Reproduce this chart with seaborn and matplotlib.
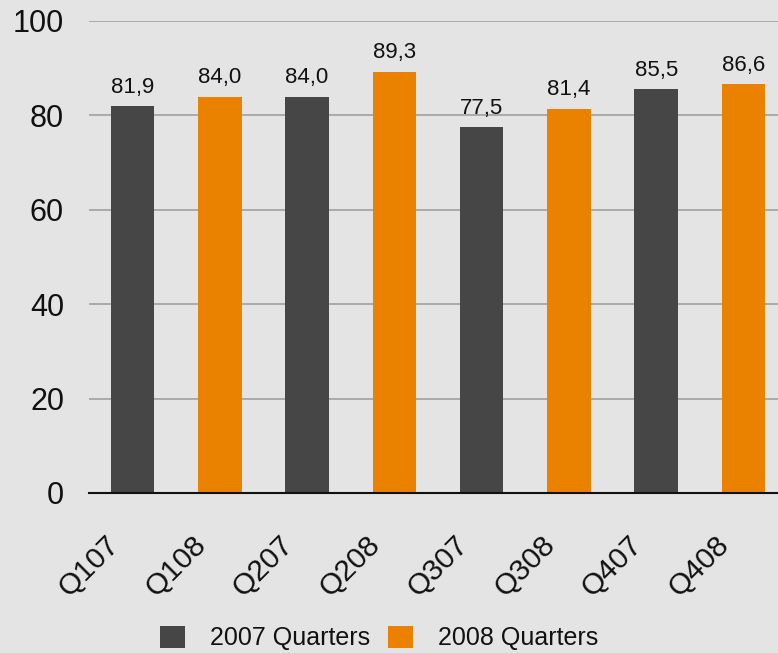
import pandas as pd
import matplotlib.pyplot as plt
import matplotlib.transforms as mtransforms
import seaborn as sns
from matplotlib.patches import Patch

# chart data
quarters = ['Q107', 'Q108', 'Q207', 'Q208', 'Q307', 'Q308', 'Q407', 'Q408']
values = [81.9, 84.0, 84.0, 89.3, 77.5, 81.4, 85.5, 86.6]
series = ['2007 Quarters', '2008 Quarters', '2007 Quarters', '2008 Quarters',
          '2007 Quarters', '2008 Quarters', '2007 Quarters', '2008 Quarters']
series_names = ['2007 Quarters', '2008 Quarters']
y_ticks = [0, 20, 40, 60, 80, 100]

colors = {'2007 Quarters': '#464646', '2008 Quarters': '#ea8200'}
bg = '#e4e4e4'

df = pd.DataFrame({'Quarter': quarters, 'Value': values, 'Series': series})

sns.set_theme(style='white')
plt.rcParams['font.family'] = ['Liberation Sans', 'DejaVu Sans']
plt.rcParams['text.color'] = '#111111'

fig = plt.figure(figsize=(7.78, 6.53), dpi=100, facecolor=bg)
ax = fig.add_axes([89 / 778, 1 - 493 / 653, (787 - 89) / 778, (493 - 21) / 653])
ax.set_facecolor(bg)

sns.barplot(data=df, x='Quarter', y='Value', hue='Series', palette=colors,
            dodge=False, width=0.5, saturation=1, legend=False, linewidth=0, ax=ax)

# value labels with decimal comma
for cont in ax.containers:
    ax.bar_label(cont, labels=[f'{b.get_height():.1f}'.replace('.', ',') if b.get_height() > 0 else ''
                               for b in cont],
                 padding=6, fontsize=16, color='#111111')

ax.set_ylim(0, 100)
ax.set_yticks(y_ticks)
ax.set_xlim(-0.5, len(quarters) - 0.5)
ax.yaxis.grid(True, color='#a0a0a0', linewidth=1.2)
ax.set_axisbelow(True)
for side in ['left', 'right', 'top']:
    ax.spines[side].set_visible(False)
ax.spines['bottom'].set_color('#111111')
ax.spines['bottom'].set_linewidth(1.5)
ax.tick_params(axis='y', labelsize=22, pad=18, length=0, colors='#111111')
ax.tick_params(axis='x', labelsize=21.5, pad=27, length=0, colors='#111111')
shift = mtransforms.ScaledTranslation(-28 / 100, 0, fig.dpi_scale_trans)
for lbl in ax.get_xticklabels():
    lbl.set_rotation(45)
    lbl.set_ha('right')
    lbl.set_rotation_mode('anchor')
    lbl.set_transform(lbl.get_transform() + shift)
ax.set_xlabel('')
ax.set_ylabel('')

handles = [Patch(facecolor=colors[s], edgecolor='none', label=s) for s in series_names]
fig.legend(handles=handles, loc='center', bbox_to_anchor=(0.487, 0.023), ncol=2,
           frameon=False, fontsize=18, handlelength=1.0, handleheight=1.0,
           handletextpad=1.0, columnspacing=0.72, labelcolor='#111111')

plt.savefig('out.png', dpi=100, facecolor=bg)
